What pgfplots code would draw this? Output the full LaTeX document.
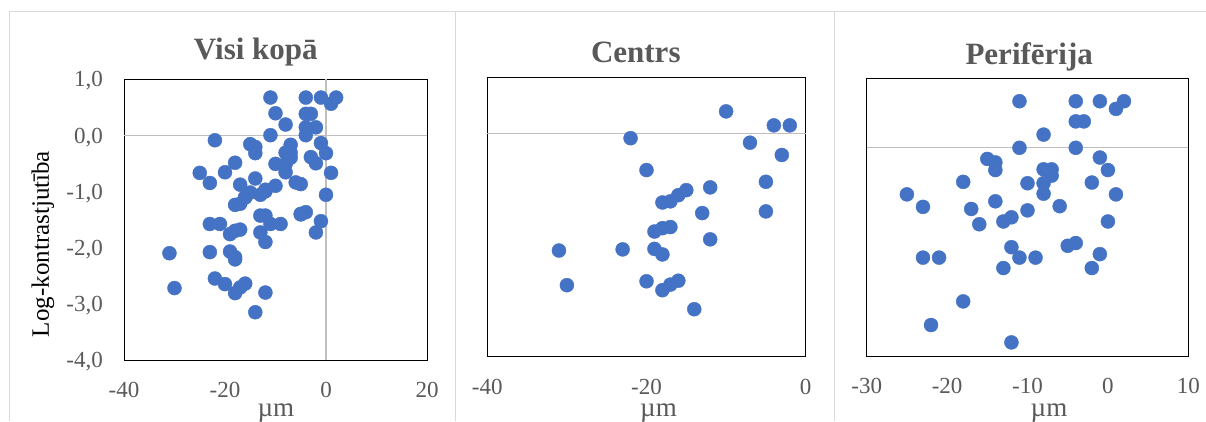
\documentclass[border=0pt]{standalone}
\usepackage{pgfplots}
\usepackage{pgfplotstable}
\pgfplotsset{compat=1.18}
\usepackage{fontspec}
\setmainfont{Liberation Serif}
\definecolor{dot}{HTML}{4472C4}
\definecolor{tickc}{HTML}{595959}
\definecolor{framec}{HTML}{D9D9D9}
\definecolor{zeroc}{HTML}{BFBFBF}

\pgfplotstableread{
x y
-10 0.39
-4 0.14
-2 0.14
-22 -0.09
-7 -0.17
-3 -0.39
-20 -0.66
-5 -0.87
-12 -0.97
-15 -1.02
-16 -1.11
-17 -1.22
-18 -1.24
-13 -1.43
-5 -1.40
-12 -1.90
-19 -1.76
-18 -1.70
-17 -1.68
-31 -2.10
-23 -2.08
-19 -2.07
-18 -2.17
-30 -2.72
-20 -2.65
-16 -2.64
-17 -2.71
-18 -2.81
-14 -3.15
}\centrs

\pgfplotstableread{
x y
-11 0.67
-4 0.67
-1 0.67
2 0.67
1 0.56
-4 0.38
-3 0.38
-8 0.19
-11 0.00
-4 0.00
-1 -0.14
-15 -0.16
-14 -0.21
-14 -0.32
-8 -0.31
-7 -0.31
0 -0.32
-7 -0.40
-8 -0.51
-8 -0.66
-18 -0.49
-10 -0.51
-2 -0.50
-25 -0.67
1 -0.67
-23 -0.85
-17 -0.88
-14 -0.77
-10 -0.90
-6 -0.84
-16 -1.10
-13 -1.06
-12 -1.00
0 -1.06
-12 -1.43
-11 -1.58
-9 -1.58
-23 -1.58
-21 -1.58
-13 -1.73
-5 -1.41
-4 -1.37
-1 -1.53
-2 -1.73
-18 -2.21
-22 -2.55
-12 -2.80
}\perif

\pgfplotsset{
  panel/.style={
    scale only axis,
    axis line style={black, line width=1pt},
    major tick length=0pt,
    tick label style={font=\fontsize{23}{23}\selectfont, text=tickc, inner sep=0pt},
    xticklabel style={anchor=base, yshift=-37.5pt},
    yticklabel style={anchor=base east, xshift=-21pt, yshift=-7.8pt},
    /pgf/number format/assume math mode=true,
    clip=false,
  },
  dots/.style={only marks, mark=*, mark size=7pt, color=dot, mark options={fill=dot, draw=dot}},
}

\begin{document}
\begin{tikzpicture}[x=1pt, y=1pt]
\useasboundingbox (0,0) rectangle (1206,421);
\fill[white] (0,0) rectangle (1206,421);
% chart area frames
\draw[framec, line width=1pt] (9,0) -- (9,409) -- (1206,409);
\draw[framec, line width=1pt] (455,0) -- (455,409);
\draw[framec, line width=1pt] (834,0) -- (834,409);

% Panel 1
\begin{axis}[panel, at={(124pt,61pt)}, anchor=south west,
  width=303pt, height=281pt,
  xmin=-40, xmax=20, ymin=-4, ymax=1,
  xtick={-40,-20,0,20}, ytick={-4,-3,-2,-1,0,1},
  yticklabel style={/pgf/number format/.cd, fixed, fixed zerofill, precision=1, use comma},
]
\addplot[zeroc, line width=1.2pt] coordinates {(0,-4) (0,1)};
\addplot[zeroc, line width=1.2pt] coordinates {(-40,0) (20,0)};
\addplot[dots] table[x=x, y=y] {\centrs};
\addplot[dots] table[x=x, y=y] {\perif};
\end{axis}

% Panel 2
\begin{axis}[panel, at={(487.3pt,64.3pt)}, anchor=south west,
  width=318.4pt, height=279.4pt,
  xmin=-40, xmax=0, ymin=-4, ymax=1,
  xtick={-40,-20,0}, ytick=\empty,
]
\addplot[zeroc, line width=1.2pt] coordinates {(-40,0) (0,0)};
\addplot[dots] table[x=x, y=y] {\centrs};
\end{axis}

% Panel 3
\begin{axis}[panel, at={(866.7pt,64.7pt)}, anchor=south west,
  width=321.6pt, height=278pt,
  xmin=-30, xmax=10, ymin=-3, ymax=1,
  xtick={-30,-20,-10,0,10}, ytick=\empty,
]
\addplot[zeroc, line width=1.2pt] coordinates {(-30,0) (10,0)};
\addplot[dots] table[x=x, y=y] {\perif};
\end{axis}

% titles
\node[anchor=base, inner sep=0, text=tickc, font=\fontsize{31}{31}\selectfont\bfseries] at (255.8,361) {Visi kopā};
\node[anchor=base, inner sep=0, text=tickc, font=\fontsize{31}{31}\selectfont\bfseries] at (635.8,358.5) {Centrs};
\node[anchor=base, inner sep=0, text=tickc, font=\fontsize{31}{31}\selectfont\bfseries] at (1029.2,356) {Perifērija};
% axis titles
\node[anchor=base, inner sep=0, text=tickc, font=\fontsize{27}{27}\selectfont] at (275.8,5) {µm};
\node[anchor=base, inner sep=0, text=tickc, font=\fontsize{27}{27}\selectfont] at (658.5,4.5) {µm};
\node[anchor=base, inner sep=0, text=tickc, font=\fontsize{27}{27}\selectfont] at (1049,5) {µm};
\node[anchor=base, inner sep=0, rotate=90, font=\fontsize{25}{25}\selectfont] at (48.8,177) {Log-kontrastjutība};
\end{tikzpicture}
\end{document}
